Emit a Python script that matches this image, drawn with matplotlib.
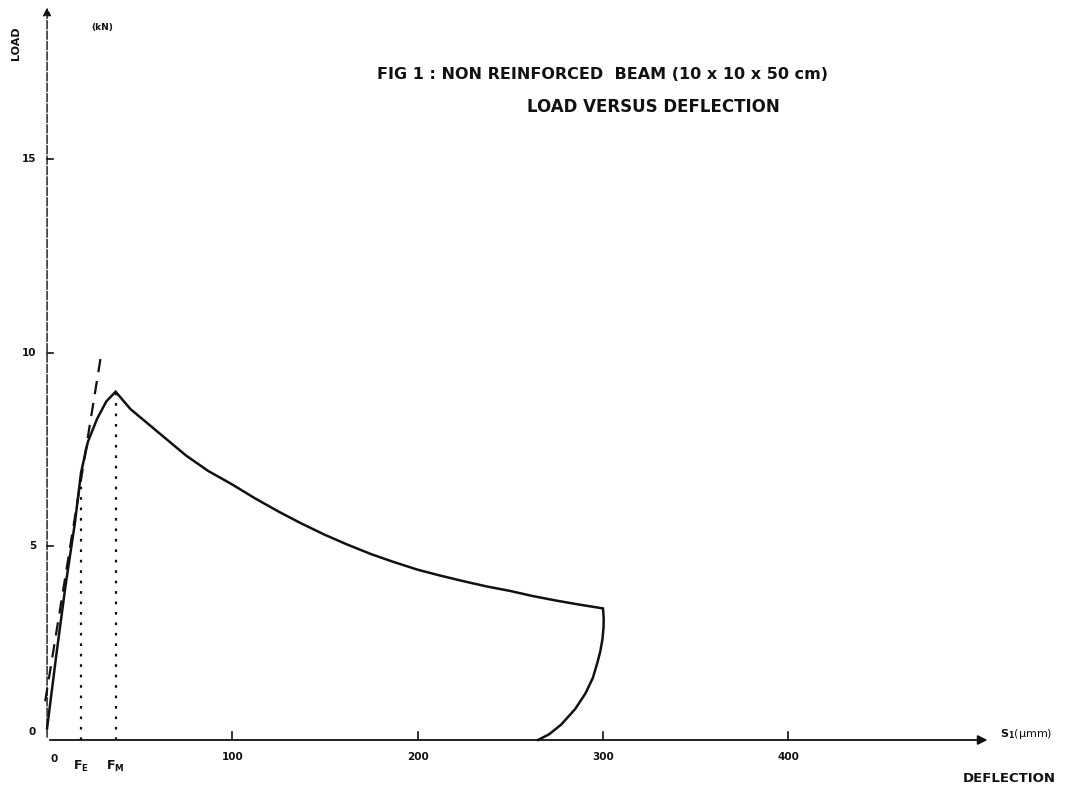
import numpy as np
import matplotlib
matplotlib.use("Agg")
import matplotlib.pyplot as plt

# load-deflection curve of the beam (deflection in micro-mm, load in kN)
defl_up = [0, 5, 10, 15, 18.3, 22, 27, 32, 37]
load_up = [0.3, 2.2, 4.0, 5.6, 6.9, 7.7, 8.3, 8.75, 9.0]

defl_down = [37, 45, 55, 65, 75, 87, 100, 112, 125, 137, 150, 162, 175,
             187, 200, 212, 225, 237, 250, 262, 275, 287, 300]
load_down = [9.0, 8.55, 8.15, 7.75, 7.35, 6.95, 6.6, 6.25, 5.9, 5.6, 5.3, 5.05, 4.8,
             4.6, 4.4, 4.25, 4.1, 3.97, 3.85, 3.72, 3.6, 3.5, 3.4]

defl_unload = [300, 300.4, 300.3, 299.7, 298.6, 297.0, 294.5, 290.5, 285.0, 277.5, 271, 265]
load_unload = [3.4, 3.15, 2.9, 2.6, 2.3, 2.0, 1.6, 1.2, 0.8, 0.4, 0.15, 0.0]

# tangent at origin
tangent_defl = [-1, 29]
tangent_load = [1.0, 9.9]

F_E = 18.3
F_M = 37

x_ticks = [100, 200, 300, 400]
y_ticks = [5, 10, 15]

fig = plt.figure(figsize=(10.69, 7.85), dpi=100)
ax = fig.add_axes([0, 0, 1, 1])
ax.set_xlim(-25.4, 551.5)
ax.set_ylim(-1.163, 19.12)
ax.axis('off')

ink = '#111111'

# axes with arrows
ax.annotate('', xy=(509, 0), xytext=(0, 0),
            arrowprops=dict(arrowstyle='-|>', color=ink, lw=1.3, mutation_scale=14))
ax.annotate('', xy=(0, 19.0), xytext=(0, 0),
            arrowprops=dict(arrowstyle='-|>', color=ink, lw=1.0, linestyle=(0, (6, 1.5)),
                            mutation_scale=12))

# ticks
for t in x_ticks:
    ax.plot([t, t], [0, 0.2], color=ink, lw=1.2)
    ax.text(t, -0.3, str(t), ha='center', va='top', fontsize=7.5, fontweight='bold', color=ink)
for t in y_ticks:
    ax.plot([0, 3], [t, t], color=ink, lw=1.2)
    ax.text(-6, t, str(t), ha='right', va='center', fontsize=7.5, fontweight='bold', color=ink)
ax.text(-6, 0.2, '0', ha='right', va='center', fontsize=7.5, fontweight='bold', color=ink)
ax.text(4, -0.35, '0', ha='center', va='top', fontsize=7.5, fontweight='bold', color=ink)

# curve
ax.plot(defl_up + defl_down[1:] + defl_unload[1:],
        load_up + load_down[1:] + load_unload[1:], color=ink, lw=1.8, solid_joinstyle='miter')
ax.plot(tangent_defl, tangent_load, color=ink, lw=1.6, linestyle=(0, (6, 4)))

# F_E and F_M markers
ax.plot([F_E, F_E], [0, 6.9], color=ink, lw=1.6, linestyle=(0, (1.2, 3.5)))
ax.plot([F_M, F_M], [0, 9.0], color=ink, lw=1.6, linestyle=(0, (1.2, 3.5)))
ax.text(F_E, -0.5, r'$\mathbf{F_{E}}$', ha='center', va='top', fontsize=9, color=ink)
ax.text(F_M, -0.5, r'$\mathbf{F_{M}}$', ha='center', va='top', fontsize=9, color=ink)

# labels
ax.text(-17, 18.0, 'LOAD', rotation=90, ha='center', va='center', fontsize=8,
        fontweight='bold', color=ink)
ax.text(30, 18.4, '(kN)', ha='center', va='center', fontsize=6.5, fontweight='bold', color=ink)
ax.text(514, 0.15, r'$\mathbf{S_1}$(µmm)', ha='left', va='center', fontsize=8, color=ink)
ax.text(494, -1.0, 'DEFLECTION', ha='left', va='center', fontsize=9.5, fontweight='bold', color=ink)

ax.text(300, 17.2, 'FIG 1 : NON REINFORCED  BEAM (10 x 10 x 50 cm)', ha='center', va='center',
        fontsize=11.5, fontweight='bold', color=ink)
ax.text(327, 16.35, 'LOAD VERSUS DEFLECTION', ha='center', va='center',
        fontsize=12, fontweight='bold', color=ink)

fig.savefig('out.png', dpi=100)
